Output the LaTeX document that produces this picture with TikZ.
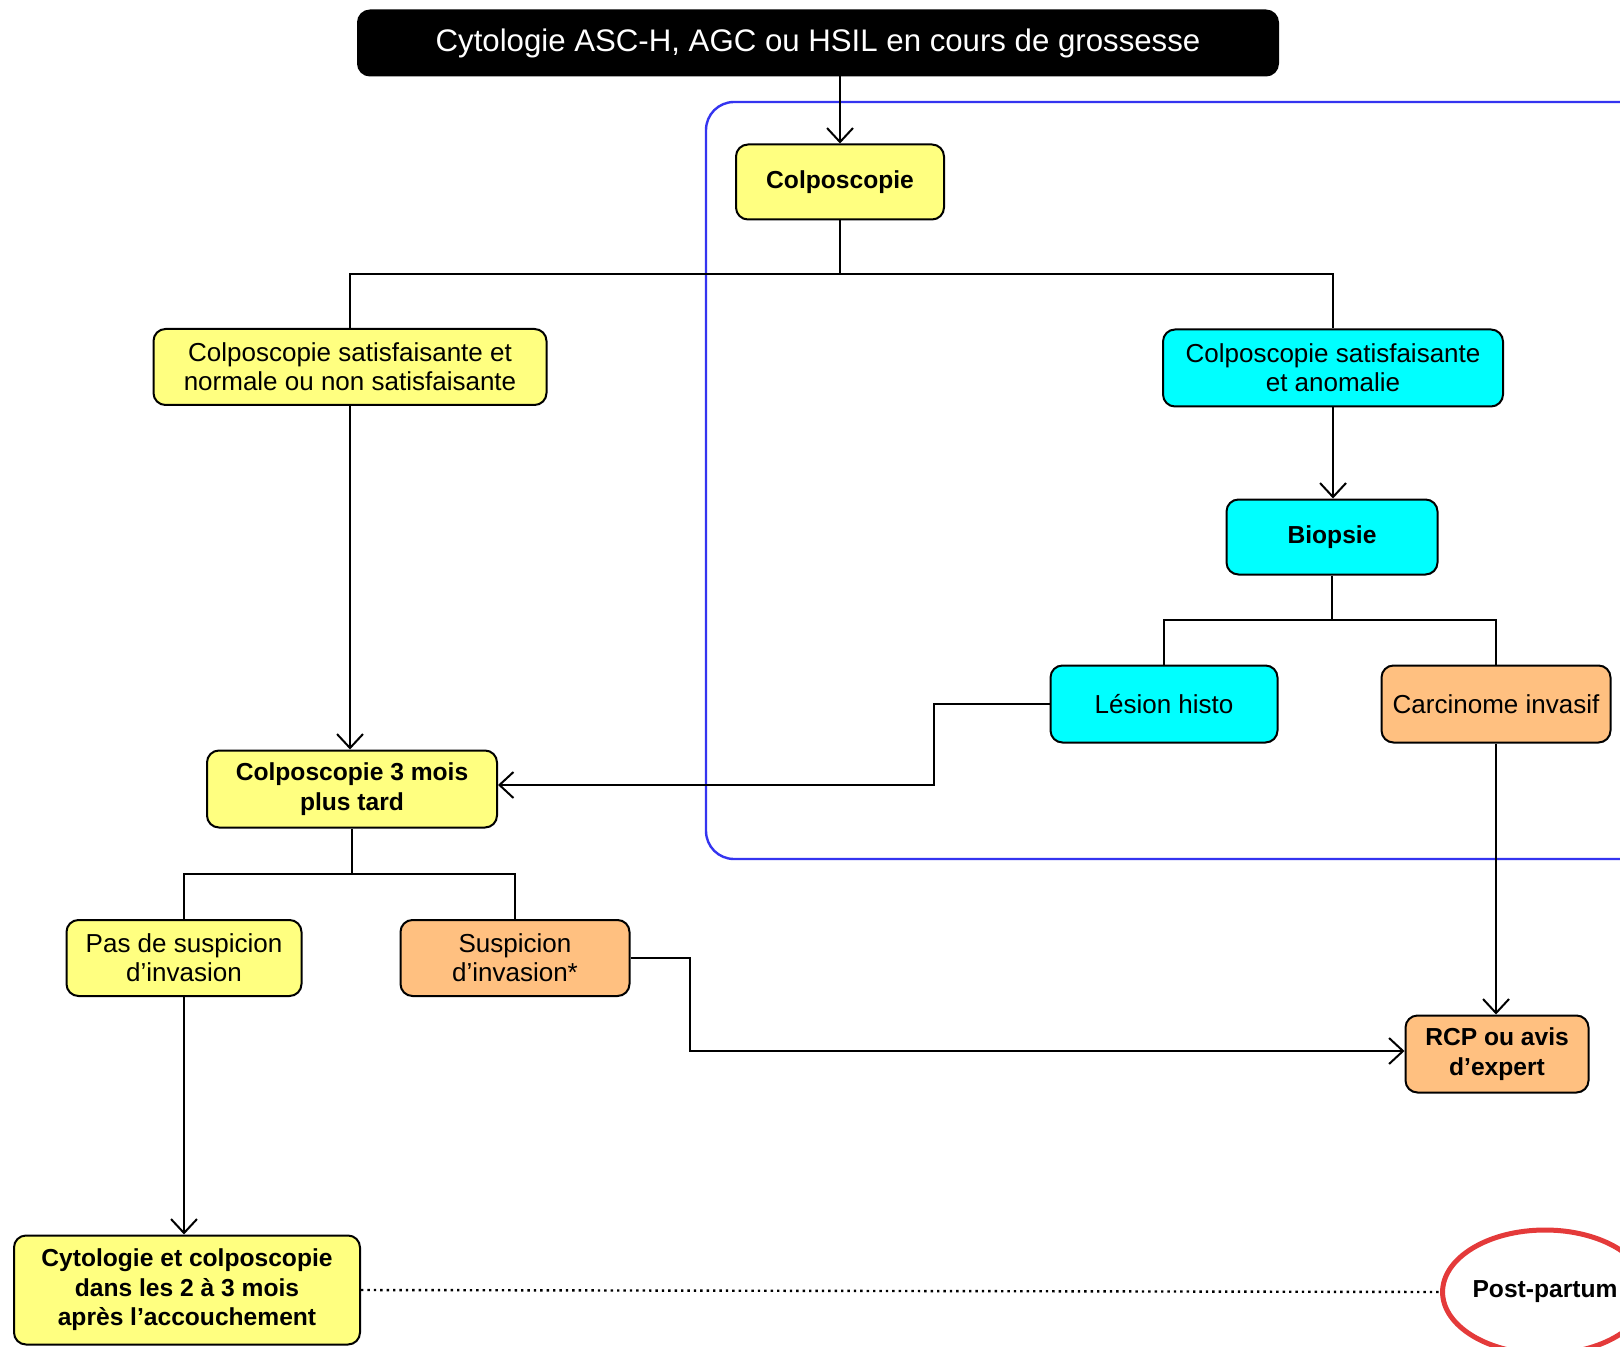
\documentclass[tikz,border=0pt]{standalone}
\usepackage{fontspec}
\setmainfont{Liberation Sans}
\usetikzlibrary{arrows.meta,shapes.geometric}
\definecolor{jaune}{HTML}{FFFF80}
\definecolor{cyan2}{HTML}{00FFFF}
\definecolor{peche}{HTML}{FFC080}
\definecolor{bleu}{HTML}{3434F0}
\definecolor{rouge}{HTML}{E43A3A}
\begin{document}
\begin{tikzpicture}[x=0.5pt,y=-0.5pt,line width=1pt,
  box/.style={draw,rounded corners=6pt,align=center,inner sep=0pt,font=\fontsize{13}{14.5}\selectfont},
  gras/.style={font=\fontsize{12.3}{14.8}\selectfont\bfseries},
  arr/.style={-{Straight Barb[length=7pt,width=13pt]}}]

\clip (0,0) rectangle (1620,1347);
\fill[white] (0,0) rectangle (1620,1347);

% cadre grossesse
\draw[bleu,line width=1.2pt,rounded corners=14pt] (706,102) rectangle (1680,859);

\node[box,fill=black,text=white,minimum width=460pt,minimum height=32.5pt,font=\fontsize{15.6}{18}\selectfont] (cyto1) at (818,43) {Cytologie ASC-H, AGC ou HSIL en cours de grossesse};
\node[box,gras,fill=jaune,minimum width=104pt,minimum height=37.5pt] (colpo) at (840,182) {Colposcopie};
\node[box,fill=jaune,minimum width=196.5pt,minimum height=38pt] (normale) at (350,367) {Colposcopie satisfaisante et\\normale ou non satisfaisante};
\node[box,fill=cyan2,minimum width=170pt,minimum height=38.5pt] (anomalie) at (1333,368) {Colposcopie satisfaisante\\et anomalie};
\node[box,gras,fill=cyan2,minimum width=105.5pt,minimum height=37.5pt] (biopsie) at (1332,537) {Biopsie};
\node[box,fill=cyan2,minimum width=113.5pt,minimum height=38.5pt] (lesion) at (1164,704) {Lésion histo};
\node[box,fill=peche,minimum width=114.5pt,minimum height=38.5pt] (carcinome) at (1496,704) {Carcinome invasif};
\node[box,gras,fill=jaune,minimum width=145pt,minimum height=38.5pt] (colpo3) at (352,789) {Colposcopie 3 mois\\plus tard};
\node[box,fill=jaune,minimum width=117.5pt,minimum height=38pt] (pas) at (184,958) {Pas de suspicion\\d’invasion};
\node[box,fill=peche,minimum width=114.5pt,minimum height=38pt] (suspicion) at (515,958) {Suspicion\\d’invasion*};
\node[box,gras,fill=peche,minimum width=91.5pt,minimum height=38.5pt] (rcp) at (1497,1054) {RCP ou avis\\d’expert};
\node[box,gras,fill=jaune,minimum width=173pt,minimum height=54.5pt] (suivi) at (187,1290) {Cytologie et colposcopie\\dans les 2 à 3 mois\\après l’accouchement};
\node[ellipse,draw=rouge,line width=2.5pt,minimum width=101pt,minimum height=62pt,inner sep=0pt,gras] (pp) at (1545,1292) {Post-partum};

\coordinate (b1) at (840,274);
\coordinate (b3) at (1332,620);
\coordinate (b4) at (352,874);
\coordinate (k1) at (934,745);
\coordinate (k2) at (690,1000);

\draw[arr] (cyto1.south -| colpo.north) -- (colpo.north);
\draw (colpo.south) -- (b1);
\draw (normale.north) |- (b1) -| (anomalie.north);
\draw[arr] (normale.south) -- (normale.south |- colpo3.north);
\draw[arr] (anomalie.south) -- (anomalie.south |- biopsie.north);
\draw (biopsie.south) -- (b3);
\draw (lesion.north) |- (b3) -| (carcinome.north);
\draw[arr] (lesion.west) -| (k1) |- ([yshift=2pt]colpo3.east);
\draw (colpo3.south) -- (b4);
\draw (pas.north) |- (b4) -| (suspicion.north);
\draw[arr] (suspicion.east) -| (k2) |- ([yshift=1.5pt]rcp.west);
\draw[arr] (carcinome.south) -- (carcinome.south |- rcp.north);
\draw[arr] (pas.south) -- (pas.south |- suivi.north);
\draw[dotted,line width=1.2pt] (suivi.east) -- (pp.west);

\end{tikzpicture}
\end{document}
